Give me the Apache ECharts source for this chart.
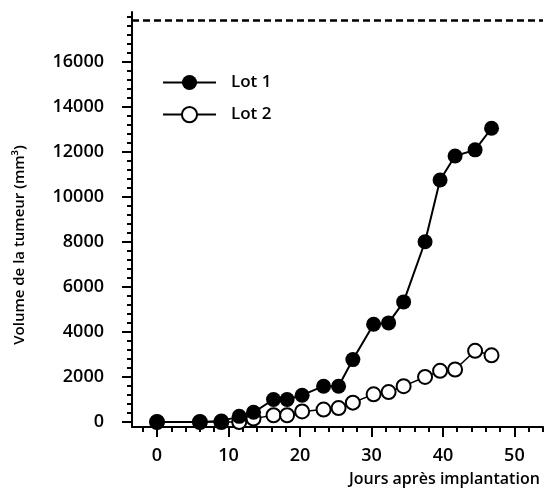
<!DOCTYPE html>
<html>
<head>
<meta charset="utf-8">
<script src="https://cdn.jsdelivr.net/npm/echarts@6/dist/echarts.min.js"></script>
<style>
  html, body { margin: 0; padding: 0; background: #fff; }
  #chart { width: 544px; height: 497px; }
</style>
</head>
<body>
<div id="chart"></div>
<script>
  // jours après implantation
  var days = [0, 6, 9, 11.5, 13.5, 16.3, 18.2, 20.3, 23.3, 25.4, 27.4, 30.3, 32.4, 34.5, 37.5, 39.6, 41.7, 44.5, 46.8];
  // volume tumoral (mm3)
  var lot1 = [0, 0, 40, 250, 430, 1000, 1000, 1190, 1590, 1590, 2770, 4340, 4400, 5330, 8000, 10740, 11810, 12080, 13040];
  var lot2 = [0, 0, 0, 0, 150, 300, 300, 470, 550, 620, 860, 1230, 1330, 1590, 2000, 2270, 2330, 3160, 2960];
  var seriesNames = ['Lot 1', 'Lot 2'];
  var xTicks = [0, 10, 20, 30, 40, 50];
  var yTicks = [0, 2000, 4000, 6000, 8000, 10000, 12000, 14000, 16000];
  var topLine = 17850;

  var xMinor = [];
  for (var d = -2; d <= 54; d += 2) xMinor.push(d);
  var yMinor = [];
  for (var v = 0; v <= 18000; v += 400) yMinor.push(v);

  function pairs(ys) {
    return days.map(function (d, i) { return [d, ys[i]]; });
  }
  function plain(val) { return String(val); }

  var font = '"Open Sans", "Noto Sans", sans-serif';
  var chart = echarts.init(document.getElementById('chart'));
  var option = {
    backgroundColor: '#fff',
    animation: false,
    grid: { left: 132, right: 1, top: 12, bottom: 70 },
    legend: {
      data: seriesNames,
      orient: 'vertical',
      left: 157,
      top: 69,
      itemWidth: 53,
      itemHeight: 19,
      itemGap: 15,
      textStyle: { fontFamily: font, fontSize: 17, fontWeight: 600, color: '#000', padding: [0, 0, 0, 10] }
    },
    xAxis: [{
      type: 'value', min: -3.5, max: 54,
      splitLine: { show: false },
      axisLine: { onZero: false, lineStyle: { color: '#000', width: 2 } },
      axisTick: { customValues: xTicks, length: 10, lineStyle: { color: '#000', width: 2 } },
      axisLabel: { customValues: xTicks, formatter: plain, margin: 20, color: '#000', fontFamily: font, fontSize: 18, fontWeight: 600 }
    }, {
      type: 'value', min: -3.5, max: 54, position: 'bottom',
      splitLine: { show: false },
      axisLine: { show: false, onZero: false },
      axisTick: { customValues: xMinor, length: 5, lineStyle: { color: '#000', width: 2 } },
      axisLabel: { show: false }
    }],
    yAxis: [{
      type: 'value', min: -222, max: 18200,
      splitLine: { show: false },
      axisLine: { onZero: false, lineStyle: { color: '#000', width: 2 } },
      axisTick: { customValues: yTicks, length: 10, lineStyle: { color: '#000', width: 2 } },
      axisLabel: { customValues: yTicks, formatter: plain, margin: 28, color: '#000', fontFamily: font, fontSize: 18, fontWeight: 600 }
    }, {
      type: 'value', min: -222, max: 18200, position: 'left',
      splitLine: { show: false },
      axisLine: { show: false, onZero: false },
      axisTick: { customValues: yMinor, length: 5, lineStyle: { color: '#000', width: 2 } },
      axisLabel: { show: false }
    }],
    graphic: [{
      type: 'text', x: 20, y: 245, rotation: Math.PI / 2,
      style: { text: 'Volume de la tumeur (mm³)', fill: '#000', font: '600 15px ' + font, align: 'center', verticalAlign: 'middle' }
    }, {
      type: 'text', x: 349, y: 479,
      style: { text: 'Jours après implantation', fill: '#000', font: '600 16px ' + font, align: 'left', verticalAlign: 'middle' }
    }],
    series: [{
      name: seriesNames[1], type: 'line', data: pairs(lot2),
      symbol: 'circle', symbolSize: 14, showAllSymbol: true, z: 2,
      lineStyle: { color: '#000', width: 1.5 },
      itemStyle: { color: '#fff', borderColor: '#000', borderWidth: 2 }
    }, {
      name: seriesNames[0], type: 'line', data: pairs(lot1),
      symbol: 'circle', symbolSize: 15, showAllSymbol: true, z: 3,
      lineStyle: { color: '#000', width: 2 },
      itemStyle: { color: '#000', borderColor: '#000', borderWidth: 0 },
      markLine: {
        silent: true, symbol: 'none', label: { show: false },
        lineStyle: { color: '#000', width: 2.5, type: [7, 4] },
        data: [{ yAxis: topLine }]
      }
    }]
  };
  chart.setOption(option);
</script>
</body>
</html>
